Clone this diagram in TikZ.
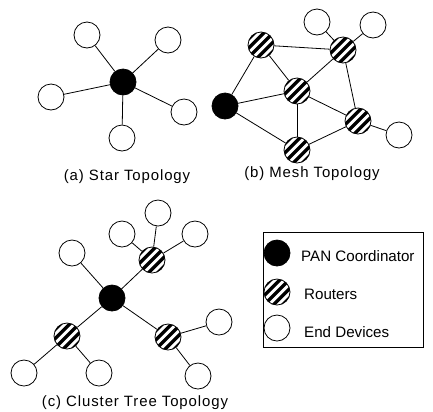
\documentclass[tikz,border=0pt]{standalone}
\usepackage{fontspec}
\setmainfont{Liberation Sans}
\newfontfamily\capfont[LetterSpace=6]{Liberation Sans}
\tikzset{
  dev/.style={circle, draw, line width=0.8bp, minimum size=26bp, inner sep=0pt, fill=white},
  pancoord/.style={dev, fill=black},
  router/.style={dev, path picture={
        \foreach \k in {-27.6,-18.4,...,27.6}
          \draw[line width=3.3bp, black]
            ([xshift=\k bp-25bp, yshift=-25bp]path picture bounding box.center) --
            ([xshift=\k bp+25bp, yshift=25bp]path picture bounding box.center);
      }},
  link/.style={line width=0.8bp},
  captext/.style={anchor=base, font=\capfont\fontsize{15}{18}\selectfont, inner sep=0pt},
  legtext/.style={anchor=base west, font=\fontsize{15.2}{18}\selectfont, inner sep=0pt}
}
\begin{document}
\begin{tikzpicture}[x=1bp,y=-1bp]
\useasboundingbox (0,0) rectangle (433,411);

% (a) Star
\node[pancoord] (s0) at (123,82) {};
\node[dev] (s1) at (87,35) {};
\node[dev] (s2) at (168,40) {};
\node[dev] (s3) at (51,97) {};
\node[dev] (s4) at (184,112) {};
\node[dev] (s5) at (122,138) {};
\foreach \n in {s1,s2,s3,s4,s5} \draw[link] (s0) -- (\n);
\node[captext] (capa) at (127,180) {(a) Star Topology};

% (b) Mesh
\node[pancoord] (m0) at (225,106) {};
\node[router] (m1) at (261,45) {};
\node[router] (m2) at (343,50) {};
\node[router] (m3) at (297,91) {};
\node[router] (m4) at (358,121) {};
\node[router] (m5) at (297,150) {};
\node[dev] (m6) at (317,22) {};
\node[dev] (m7) at (373,25) {};
\node[dev] (m8) at (399,135) {};
\draw[link] (m0) -- (m1);
\draw[link] (m0) -- (m3);
\draw[link] (m0) -- (m5);
\draw[link] (m1) -- (m2);
\draw[link] (m1) -- (m3);
\draw[link] (m2) -- (m3);
\draw[link] (m2) -- (m4);
\draw[link] (m3) -- (m4);
\draw[link] (m3) -- (m5);
\draw[link] (m5) -- (m4);
\draw[link] (m2) -- (m6);
\draw[link] (m2) -- (m7);
\draw[link] (m4) -- (m8);
\node[captext] (capb) at (312,177) {(b) Mesh Topology};

% (c) Cluster tree
\node[pancoord] (c0) at (112,298) {};
\node[router] (c1) at (152,260) {};
\node[router] (c2) at (67,336) {};
\node[router] (c3) at (168,337) {};
\node[dev] (c4) at (72,253) {};
\node[dev] (c5) at (158,213) {};
\node[dev] (c6) at (122,234) {};
\node[dev] (c7) at (195,234) {};
\node[dev] (c8) at (219,322) {};
\node[dev] (c9) at (198,376) {};
\node[dev] (c10) at (24,373) {};
\node[dev] (c11) at (99,373) {};
\draw[link] (c0) -- (c4);
\draw[link] (c0) -- (c1);
\draw[link] (c0) -- (c2);
\draw[link] (c0) -- (c3);
\draw[link] (c1) -- (c5);
\draw[link] (c1) -- (c6);
\draw[link] (c1) -- (c7);
\draw[link] (c2) -- (c10);
\draw[link] (c2) -- (c11);
\draw[link] (c3) -- (c8);
\draw[link] (c3) -- (c9);
\node[captext] (capc) at (135,406) {(c) Cluster Tree Topology};

% Legend
\node[draw, line width=0.8bp, minimum width=160bp, minimum height=115bp, inner sep=0pt, anchor=north west] (legbox) at (263,232) {};
\node[pancoord] (l1) at (277,253) {};
\node[router] (l2) at (277,292) {};
\node[dev] (l3) at (277,328) {};
\node[legtext] (t1) at (301,261) {PAN Coordinator};
\node[legtext] (t2) at (304,299) {Routers};
\node[legtext] (t3) at (304,337) {End Devices};
\end{tikzpicture}
\end{document}
